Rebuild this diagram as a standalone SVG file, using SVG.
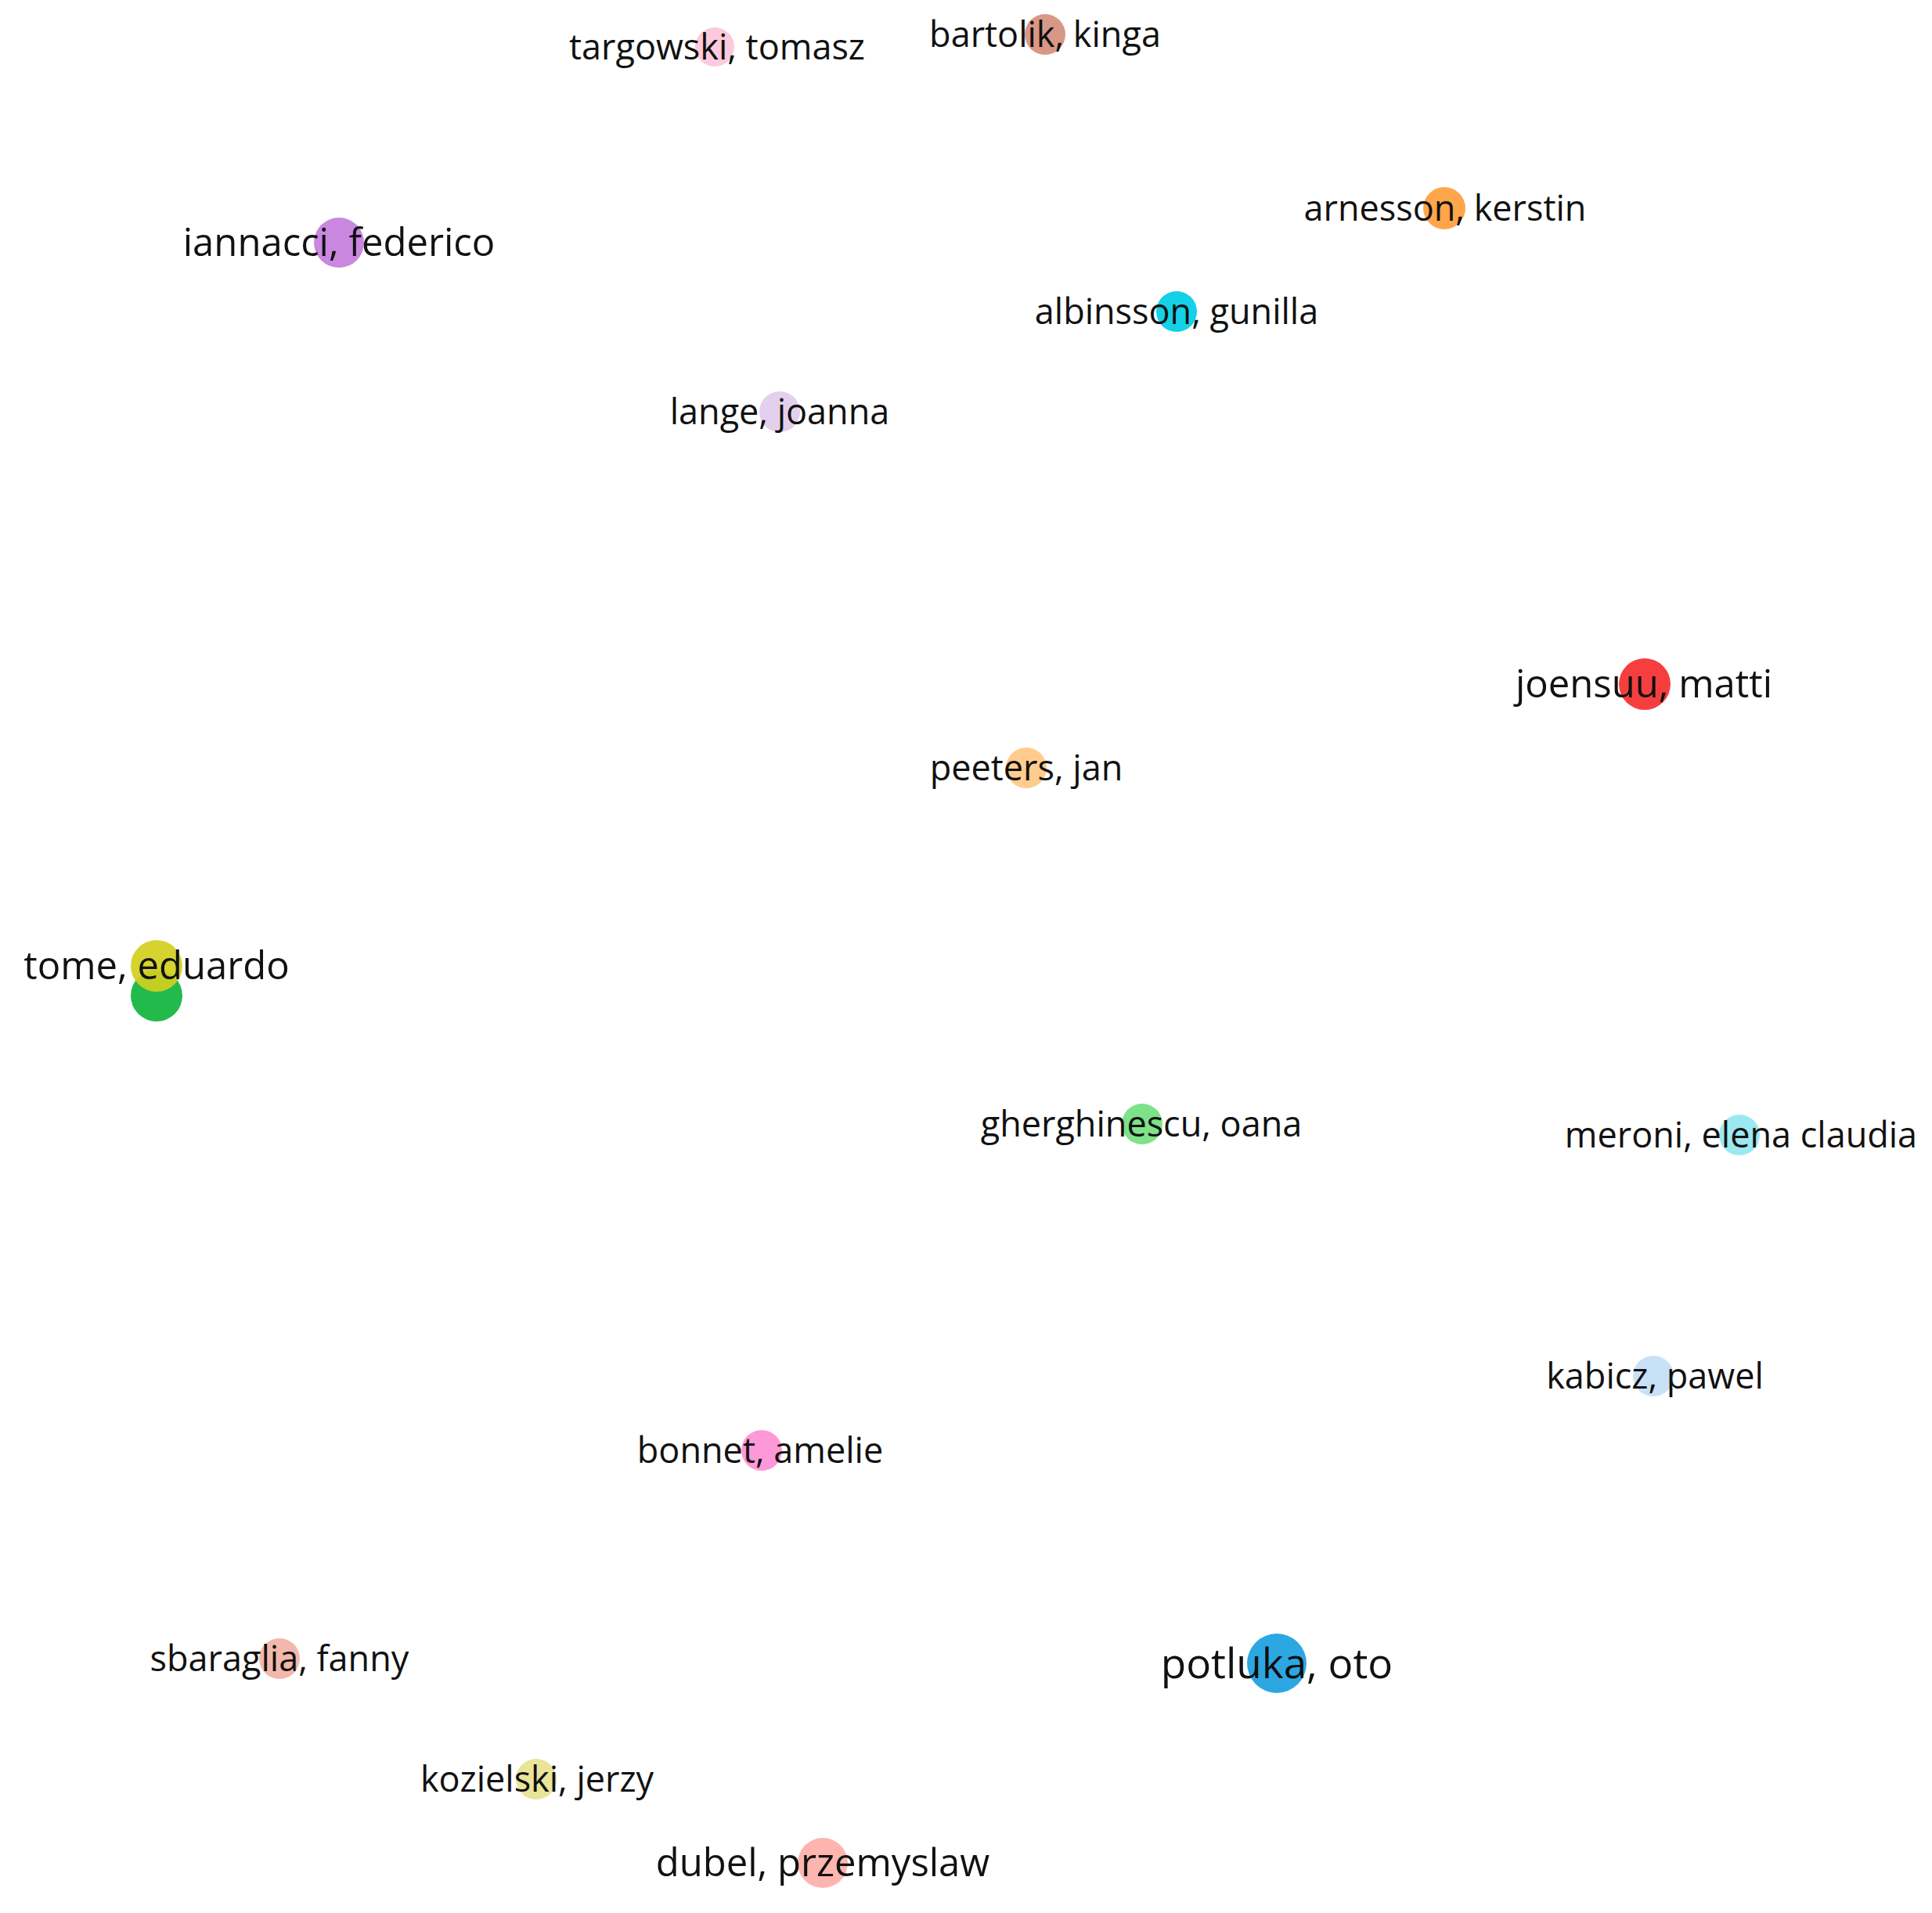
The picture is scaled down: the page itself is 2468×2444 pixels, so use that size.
<svg xmlns="http://www.w3.org/2000/svg" width="2468" height="2444" viewBox="0 0 2468 2444">
<style>
text{font-family:"Open Sans","Noto Sans","DejaVu Sans",sans-serif;fill:#111;text-anchor:middle}
.s{font-size:45px}
.m{font-size:49px}
.xl{font-size:53px}
circle{opacity:0.92}
</style>
<rect width="2468" height="2444" fill="#fff"/>
<g id="connectors"></g>
<g id="n-targowski"><circle cx="913" cy="60" r="25" fill="#fcc4da"/><text class="s" x="916" y="76">targowski, tomasz</text></g>
<g id="n-bartolik"><circle cx="1335" cy="44" r="26" fill="#d68f7c"/><text class="s" x="1335" y="60">bartolik, kinga</text></g>
<g id="n-iannacci"><circle cx="433" cy="310" r="32" fill="#c47ddc"/><text class="m" x="433" y="327">iannacci, federico</text></g>
<g id="n-arnesson"><circle cx="1845" cy="266" r="27" fill="#ff9e3c"/><text class="s" x="1846" y="282">arnesson, kerstin</text></g>
<g id="n-albinsson"><circle cx="1503" cy="398" r="26" fill="#00cde6"/><text class="s" x="1503" y="414">albinsson, gunilla</text></g>
<g id="n-lange"><circle cx="996" cy="526" r="26" fill="#e2cbec"/><text class="s" x="996" y="542">lange, joanna</text></g>
<g id="n-joensuu"><circle cx="2101" cy="874" r="33" fill="#f42f2f"/><text class="m" x="2100" y="891">joensuu, matti</text></g>
<g id="n-peeters"><circle cx="1311" cy="981" r="26" fill="#ffc884"/><text class="s" x="1311" y="997">peeters, jan</text></g>
<g id="n-tome2"><circle cx="200" cy="1272" r="33" fill="#0fb43c"/></g>
<g id="n-tome"><circle cx="200" cy="1234" r="33" fill="#d2cf1e"/><text class="m" x="200" y="1251">tome, eduardo</text></g>
<g id="n-gherghinescu"><circle cx="1459" cy="1436" r="26" fill="#72e07e"/><text class="s" x="1458" y="1452">gherghinescu, oana</text></g>
<g id="n-meroni"><circle cx="2222" cy="1450" r="26" fill="#92e6f0"/><text class="s" x="2224" y="1466">meroni, elena claudia</text></g>
<g id="n-kabicz"><circle cx="2112" cy="1758" r="26" fill="#c4def6"/><text class="s" x="2114" y="1774">kabicz, pawel</text></g>
<g id="n-bonnet"><circle cx="973" cy="1853" r="26" fill="#ff8fd6"/><text class="s" x="971" y="1869">bonnet, amelie</text></g>
<g id="n-sbaraglia"><circle cx="357" cy="2119" r="26" fill="#f0b2a4"/><text class="s" x="357" y="2135">sbaraglia, fanny</text></g>
<g id="n-potluka"><circle cx="1631" cy="2125" r="38" fill="#1a9fe0"/><text class="xl" x="1631" y="2144">potluka, oto</text></g>
<g id="n-kozielski"><circle cx="685" cy="2273" r="26" fill="#e8e292"/><text class="s" x="686" y="2289">kozielski, jerzy</text></g>
<g id="n-dubel"><circle cx="1051" cy="2380" r="32" fill="#ffafa8"/><text class="m" x="1051" y="2397">dubel, przemyslaw</text></g>
</svg>
